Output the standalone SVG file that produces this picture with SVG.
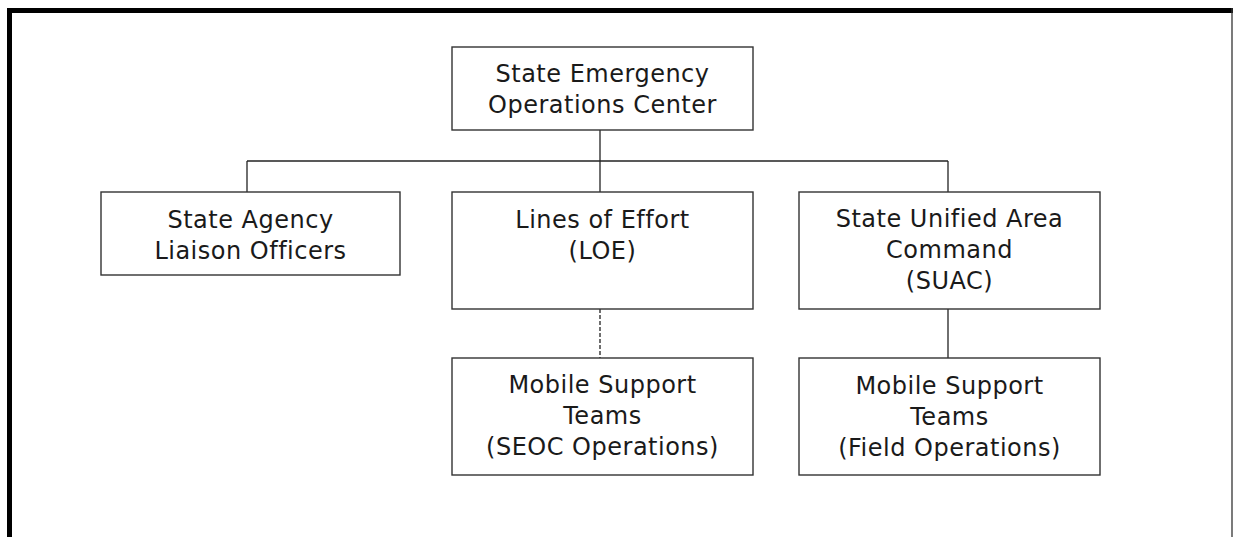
<svg xmlns="http://www.w3.org/2000/svg" width="1233" height="537" viewBox="0 0 1233 537">
<style>
.box{fill:#fff;stroke:#333;stroke-width:1.4}
.t{font-family:"DejaVu Sans",Verdana,sans-serif;font-size:24px;letter-spacing:0.5px;fill:#1a1a1a;text-anchor:middle}
.c{stroke:#222;stroke-width:1.3;fill:none}
.d{stroke-dasharray:4 2}
</style>
<rect width="1233" height="537" fill="#fff"/>
<g id="frame">
<rect x="7" y="8" width="1226" height="5" fill="#000"/>
<rect x="7" y="8" width="5" height="529" fill="#000"/>
<line x1="1232" y1="8" x2="1232" y2="537" stroke="#333" stroke-width="1.3"/>
</g>
<g id="connectors">
<line class="c" x1="600" y1="130" x2="600" y2="192"/>
<line class="c" x1="247" y1="161" x2="948" y2="161"/>
<line class="c" x1="247" y1="161" x2="247" y2="192"/>
<line class="c" x1="948" y1="161" x2="948" y2="192"/>
<line class="c d" x1="600" y1="309" x2="600" y2="358"/>
<line class="c" x1="948" y1="309" x2="948" y2="358"/>
</g>
<g id="seoc">
<rect class="box" x="452" y="47" width="301" height="83"/>
<text class="t" x="602.5" y="82">State Emergency</text>
<text class="t" x="602.5" y="113">Operations Center</text>
</g>
<g id="liaison">
<rect class="box" x="101" y="192" width="299" height="83"/>
<text class="t" x="250.5" y="228">State Agency</text>
<text class="t" x="250.5" y="259">Liaison Officers</text>
</g>
<g id="loe">
<rect class="box" x="452" y="192" width="301" height="117"/>
<text class="t" x="602.5" y="228">Lines of Effort</text>
<text class="t" x="602.5" y="259">(LOE)</text>
</g>
<g id="suac">
<rect class="box" x="799" y="192" width="301" height="117"/>
<text class="t" x="949.5" y="227">State Unified Area</text>
<text class="t" x="949.5" y="258">Command</text>
<text class="t" x="949.5" y="289">(SUAC)</text>
</g>
<g id="mst-seoc">
<rect class="box" x="452" y="358" width="301" height="117"/>
<text class="t" x="602.5" y="393">Mobile Support</text>
<text class="t" x="602.5" y="424">Teams</text>
<text class="t" x="602.5" y="455">(SEOC Operations)</text>
</g>
<g id="mst-field">
<rect class="box" x="799" y="358" width="301" height="117"/>
<text class="t" x="949.5" y="394">Mobile Support</text>
<text class="t" x="949.5" y="425">Teams</text>
<text class="t" x="949.5" y="456">(Field Operations)</text>
</g>
</svg>
